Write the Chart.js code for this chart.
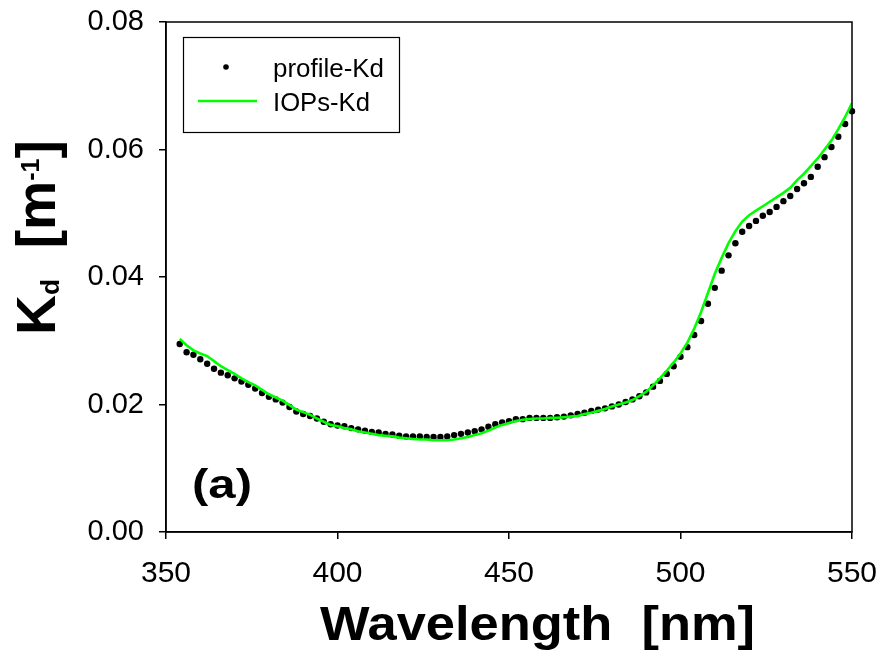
<!DOCTYPE html>
<html>
<head>
<meta charset="utf-8">
<script src="https://cdn.jsdelivr.net/npm/chart.js@4"></script>
<style>
  html, body { margin: 0; padding: 0; background: #fff; }
  canvas { display: block; }
</style>
</head>
<body>
<canvas id="grafica" width="879" height="654"></canvas>
<script>
// longitudes de onda (nm)
const longitudes = [354, 356, 358, 360, 362, 364, 366, 368, 370, 372, 374, 376, 378, 380, 382, 384, 386, 388, 390, 392,
  394, 396, 398, 400, 402, 404, 406, 408, 410, 412, 414, 416, 418, 420, 422, 424, 426, 428, 430, 432,
  434, 436, 438, 440, 442, 444, 446, 448, 450, 452, 454, 456, 458, 460, 462, 464, 466, 468, 470, 472,
  474, 476, 478, 480, 482, 484, 486, 488, 490, 492, 494, 496, 498, 500, 502, 504, 506, 508, 510, 512,
  514, 516, 518, 520, 522, 524, 526, 528, 530, 532, 534, 536, 538, 540, 542, 544, 546, 548, 550];

const perfilKd = [0.0295, 0.0282, 0.0278, 0.0271, 0.0264, 0.0256, 0.0250, 0.0246, 0.0241, 0.0236, 0.0231, 0.0225, 0.0218, 0.0212, 0.0208, 0.0203, 0.0196, 0.0189, 0.0185, 0.0182,
  0.0178, 0.0173, 0.0169, 0.0167, 0.0166, 0.0163, 0.0161, 0.0159, 0.0157, 0.0156, 0.0154, 0.0153, 0.0151, 0.0150, 0.0150, 0.0150, 0.0149, 0.0149, 0.0149, 0.0150,
  0.0152, 0.0154, 0.0156, 0.0158, 0.0161, 0.0165, 0.0169, 0.0172, 0.0174, 0.0177, 0.0177, 0.0179, 0.0179, 0.0179, 0.0179, 0.0180, 0.0181, 0.0183, 0.0185, 0.0187,
  0.0190, 0.0192, 0.0194, 0.0197, 0.0200, 0.0204, 0.0208, 0.0213, 0.0219, 0.0228, 0.0237, 0.0248, 0.0260, 0.0275, 0.0290, 0.0309, 0.0331, 0.0358, 0.0383, 0.0410,
  0.0434, 0.0453, 0.0471, 0.0480, 0.0488, 0.0496, 0.0502, 0.0510, 0.0519, 0.0527, 0.0538, 0.0547, 0.0557, 0.0573, 0.0588, 0.0604, 0.0620, 0.0640, 0.0660];

const iopsKd = [0.0303, 0.0293, 0.0285, 0.0280, 0.0276, 0.0268, 0.0260, 0.0254, 0.0248, 0.0241, 0.0235, 0.0230, 0.0223, 0.0216, 0.0211, 0.0206, 0.0199, 0.0192, 0.0188, 0.0184,
  0.0178, 0.0173, 0.0168, 0.0166, 0.0163, 0.0161, 0.0158, 0.0156, 0.0154, 0.0152, 0.0151, 0.0150, 0.0148, 0.0147, 0.0146, 0.0145, 0.0145, 0.0144, 0.0144, 0.0144,
  0.0145, 0.0147, 0.0149, 0.0152, 0.0155, 0.0159, 0.0164, 0.0168, 0.0171, 0.0174, 0.0176, 0.0177, 0.0178, 0.0178, 0.0179, 0.0179, 0.0180, 0.0181, 0.0182, 0.0185,
  0.0187, 0.0190, 0.0193, 0.0197, 0.0200, 0.0203, 0.0207, 0.0213, 0.0220, 0.0230, 0.0241, 0.0253, 0.0266, 0.0280, 0.0297, 0.0319, 0.0345, 0.0375, 0.0405, 0.0430,
  0.0453, 0.0472, 0.0487, 0.0497, 0.0504, 0.0511, 0.0518, 0.0525, 0.0532, 0.0540, 0.0552, 0.0562, 0.0574, 0.0586, 0.0600, 0.0614, 0.0632, 0.0651, 0.0673];

const ticksX = [350, 400, 450, 500, 550];
const ticksY = [0, 0.02, 0.04, 0.06, 0.08];

const fuente = '"Liberation Sans", Arial, sans-serif';

// texto ajustado a un ancho dado
function textoAjustado(ctx, texto, x, y, ancho) {
  const w = ctx.measureText(texto).width;
  ctx.save();
  ctx.translate(x, y);
  ctx.scale(ancho / w, 1);
  ctx.fillText(texto, 0, 0);
  ctx.restore();
}

// sin relleno extra por las etiquetas de los extremos
function sinRelleno(s) {
  s.paddingTop = 0;
  s.paddingBottom = 0;
  s.paddingLeft = 0;
  s.paddingRight = 0;
}

const extras = {
  id: 'extras',
  afterDraw(chart) {
    const ctx = chart.ctx;
    const area = chart.chartArea;
    ctx.save();
    // marco completo
    ctx.strokeStyle = '#000';
    ctx.lineWidth = 1.5;
    ctx.strokeRect(area.left, area.top, area.right - area.left, area.bottom - area.top);

    ctx.fillStyle = '#000';
    ctx.textBaseline = 'alphabetic';
    ctx.textAlign = 'left';

    // titulo eje x
    ctx.font = 'bold 49px ' + fuente;
    textoAjustado(ctx, 'Wavelength  [nm]', 320, 640, 435);

    // (a)
    ctx.font = 'bold 41px ' + fuente;
    textoAjustado(ctx, '(a)', 192, 498, 60);

    // titulo eje y: K_d [m^-1]
    ctx.save();
    ctx.translate(55, 335);
    ctx.rotate(-Math.PI / 2);
    const partes = [
      { t: 'K', f: 55, dy: 0 },
      { t: 'd', f: 26, dy: 4 },
      { t: '  [m', f: 55, dy: 0 },
      { t: '-1', f: 25, dy: -16 },
      { t: ']', f: 55, dy: 0 }
    ];
    let total = 0;
    partes.forEach(p => {
      ctx.font = 'bold ' + p.f + 'px ' + fuente;
      p.w = ctx.measureText(p.t).width;
      total += p.w;
    });
    ctx.scale(195 / total, 1);
    let px = 0;
    partes.forEach(p => {
      ctx.font = 'bold ' + p.f + 'px ' + fuente;
      ctx.fillText(p.t, px, p.dy);
      px += p.w;
    });
    ctx.restore();

    // leyenda
    ctx.fillStyle = '#fff';
    ctx.fillRect(183, 37, 216, 95);
    ctx.strokeStyle = '#000';
    ctx.lineWidth = 1.2;
    ctx.strokeRect(183.5, 37.5, 216, 95);
    ctx.fillStyle = '#000';
    ctx.beginPath();
    ctx.arc(226, 67, 2.8, 0, Math.PI * 2);
    ctx.fill();
    ctx.strokeStyle = '#00FF00';
    ctx.lineWidth = 2.6;
    ctx.beginPath();
    ctx.moveTo(198, 101);
    ctx.lineTo(257, 101);
    ctx.stroke();
    ctx.font = '25px ' + fuente;
    textoAjustado(ctx, 'profile-Kd', 273, 77, 111);
    textoAjustado(ctx, 'IOPs-Kd', 273, 111, 97);
    ctx.restore();
  }
};

const $grafica = document.querySelector('#grafica');

new Chart($grafica, {
  type: 'scatter',
  data: {
    datasets: [
      {
        label: 'IOPs-Kd',
        data: longitudes.map((x, i) => ({ x: x, y: iopsKd[i] })),
        showLine: true,
        borderColor: '#00FF00',
        borderWidth: 2.6,
        pointRadius: 0,
        tension: 0
      },
      {
        label: 'profile-Kd',
        data: longitudes.map((x, i) => ({ x: x, y: perfilKd[i] })),
        showLine: false,
        pointRadius: 3.2,
        pointBackgroundColor: '#000',
        pointBorderWidth: 0,
        clip: false
      }
    ]
  },
  options: {
    responsive: false,
    animation: false,
    events: [],
    layout: { padding: { top: 22, right: 27, left: 0, bottom: 0 } },
    plugins: {
      legend: { display: false },
      tooltip: { enabled: false }
    },
    scales: {
      x: {
        type: 'linear',
        min: 350,
        max: 550,
        afterFit: s => { s.height = 122; sinRelleno(s); },
        afterBuildTicks: s => { s.ticks = ticksX.map(v => ({ value: v })); },
        grid: { drawOnChartArea: false, drawTicks: true, tickLength: 7, color: '#000', lineWidth: 1.5 },
        border: { display: true, color: '#000', width: 1.5 },
        ticks: { color: '#000', font: { family: fuente, size: 30 }, padding: 17, maxRotation: 0, callback: v => v }
      },
      y: {
        type: 'linear',
        min: 0,
        max: 0.08,
        afterFit: s => { s.width = 166; sinRelleno(s); },
        afterBuildTicks: s => { s.ticks = ticksY.map(v => ({ value: v })); },
        grid: { drawOnChartArea: false, drawTicks: true, tickLength: 7, color: '#000', lineWidth: 1.5 },
        border: { display: true, color: '#000', width: 1.5 },
        ticks: { color: '#000', font: { family: fuente, size: 29 }, padding: 15, callback: v => v.toFixed(2) }
      }
    }
  },
  plugins: [extras]
});
</script>
</body>
</html>
